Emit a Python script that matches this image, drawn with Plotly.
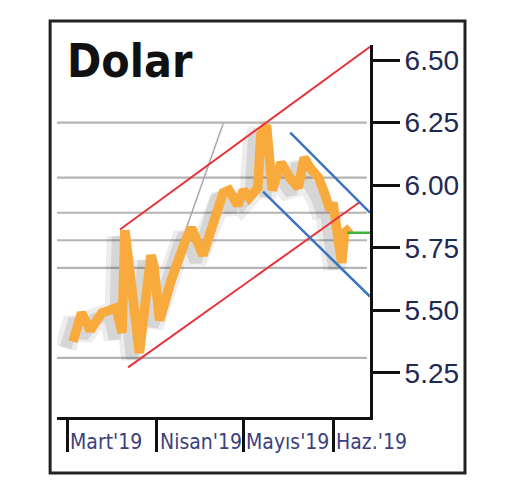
import plotly.graph_objects as go
import pandas as pd

# ---------------- data ----------------
dates = ["2019-03-03", "2019-03-06", "2019-03-09", "2019-03-13", "2019-03-18", "2019-03-20",
         "2019-03-21", "2019-03-23", "2019-03-26", "2019-03-30", "2019-03-31", "2019-04-02",
         "2019-04-06", "2019-04-11", "2019-04-13", "2019-04-17", "2019-04-21", "2019-04-24",
         "2019-04-26", "2019-04-29", "2019-05-01", "2019-05-03", "2019-05-06", "2019-05-07",
         "2019-05-09", "2019-05-11", "2019-05-14", "2019-05-17", "2019-05-20", "2019-05-22",
         "2019-05-24", "2019-05-27", "2019-05-29", "2019-05-31", "2019-06-01", "2019-06-02",
         "2019-06-04", "2019-06-05", "2019-06-07"]
usd_try = [5.375, 5.49, 5.42, 5.49, 5.51, 5.41,
           5.82, 5.61, 5.33, 5.72, 5.68, 5.46,
           5.62, 5.78, 5.83, 5.72, 5.86, 5.97,
           5.98, 5.92, 5.98, 5.95, 5.99, 6.20,
           6.24, 5.98, 6.09, 6.03, 5.99, 6.11,
           6.07, 6.03, 5.97, 5.90, 5.93, 5.835,
           5.69, 5.81, 5.83]

red_upper_x = ["2019-03-19 07:00", "2019-06-13 19:00"]
red_upper_y = [5.823, 6.553]
red_lower_x = ["2019-03-22 02:00", "2019-06-10 10:00"]
red_lower_y = [5.272, 5.934]
blue_upper_x = ["2019-05-17 05:00", "2019-06-13 19:00"]
blue_upper_y = [6.21, 5.89]
blue_lower_x = ["2019-05-07 19:00", "2019-06-13 19:00"]
blue_lower_y = [5.974, 5.555]
gray_diag_x = ["2019-04-05 14:00", "2019-04-24"]
gray_diag_y = [5.643, 6.246]
green_x = ["2019-06-05 22:00", "2019-06-13 19:00"]
green_y = [5.81, 5.81]

fib_levels = [6.25, 6.03, 5.89, 5.78, 5.67, 5.31]

y_tickvals = [5.25, 5.50, 5.75, 6.00, 6.25, 6.50]
y_ticktext = ["5.25", "5.50", "5.75", "6.00", "6.25", "6.50"]
x_tickvals = ["2019-03-01", "2019-04-01", "2019-05-01", "2019-06-01"]
x_ticktext = ["Mart'19", "Nisan'19", "Mayıs'19", "Haz.'19"]

title_text = "Dolar"

x_range = ["2019-02-25 12:00", "2019-06-13 19:00"]
y_range = [5.074, 6.56]

NARROW = "Liberation Sans Narrow, DejaVu Sans Condensed, Liberation Sans, Arial, sans-serif"

# ---------------- figure ----------------
fig = go.Figure()

# soft drop shadow of the price line, drawn on hidden, shifted axes
shift_days = pd.Timedelta(days=2.5)
sx_range = [str(pd.Timestamp(x_range[0]) + shift_days), str(pd.Timestamp(x_range[1]) + shift_days)]
sy_range = [y_range[0] + 0.025, y_range[1] + 0.025]

fig.add_trace(go.Scatter(x=dates, y=usd_try, mode="lines", xaxis="x", yaxis="y",
                         line=dict(color="rgba(60,60,60,0.09)", width=22),
                         hoverinfo="skip"))
fig.add_trace(go.Scatter(x=dates, y=usd_try, mode="lines", xaxis="x", yaxis="y",
                         line=dict(color="rgba(60,60,60,0.13)", width=12),
                         hoverinfo="skip"))


def seg(x, y, color, width):
    fig.add_trace(go.Scatter(x=x, y=y, mode="lines", xaxis="x2", yaxis="y2",
                             line=dict(color=color, width=width), hoverinfo="skip"))


seg(gray_diag_x, gray_diag_y, "#a8a8a8", 1.5)
fig.add_trace(go.Scatter(x=dates, y=usd_try, mode="lines", xaxis="x2", yaxis="y2",
                         line=dict(color="#F9AA3C", width=9.5), hoverinfo="skip"))
seg(red_upper_x, red_upper_y, "#E8333A", 2)
seg(red_lower_x, red_lower_y, "#E8333A", 2)
seg(blue_upper_x, blue_upper_y, "#3A74BE", 2.5)
seg(blue_lower_x, blue_lower_y, "#3A74BE", 2.5)
seg(green_x, green_y, "#3DB33A", 2.5)

shapes = []
for lv in fib_levels:
    shapes.append(dict(type="line", xref="paper", yref="y2", x0=0.0, x1=0.99, y0=lv, y1=lv,
                       line=dict(color="#B4B4B4", width=2.2), layer="below"))
# outer frame
shapes.append(dict(type="rect", xref="paper", yref="paper", x0=-0.022, x1=1.3035,
                   y0=-0.1505, y1=1.0645, line=dict(color="#222222", width=3)))

annotations = [dict(text=title_text, xref="paper", yref="paper", x=0.025, y=1.035,
                    xanchor="left", yanchor="top", showarrow=False,
                    font=dict(family=NARROW, size=46, color="#111111", weight="bold"))]
for tv, tt in zip(x_tickvals, x_ticktext):
    annotations.append(dict(text=tt, xref="x2", yref="paper", x=tv, y=-0.066,
                            xanchor="left", yanchor="middle", xshift=1, showarrow=False,
                            font=dict(family=NARROW, size=21, color="#3b3f7e")))

fig.update_layout(
    width=515, height=493,
    margin=dict(l=49, r=153, t=37, b=84),
    paper_bgcolor="white", plot_bgcolor="white",
    showlegend=False,
    xaxis=dict(type="date", range=sx_range, visible=False),
    yaxis=dict(range=sy_range, visible=False),
    xaxis2=dict(type="date", range=x_range, overlaying="x", anchor="y2",
                showline=True, linecolor="#111111", linewidth=3,
                ticks="outside", ticklen=32, tickwidth=3, tickcolor="#111111",
                tickvals=x_tickvals, showticklabels=False, showgrid=False, zeroline=False),
    yaxis2=dict(range=y_range, overlaying="y", anchor="x2", side="right",
                showline=True, linecolor="#111111", linewidth=3,
                ticks="outside", ticklen=27, tickwidth=3, tickcolor="#111111",
                tickvals=y_tickvals, ticktext=y_ticktext, ticklabelstandoff=-1,
                tickfont=dict(family="Liberation Sans, Arial, sans-serif", size=28, color="#1f2a52"),
                showgrid=False, zeroline=False),
    shapes=shapes,
    annotations=annotations,
)

fig.write_html("out.html")
